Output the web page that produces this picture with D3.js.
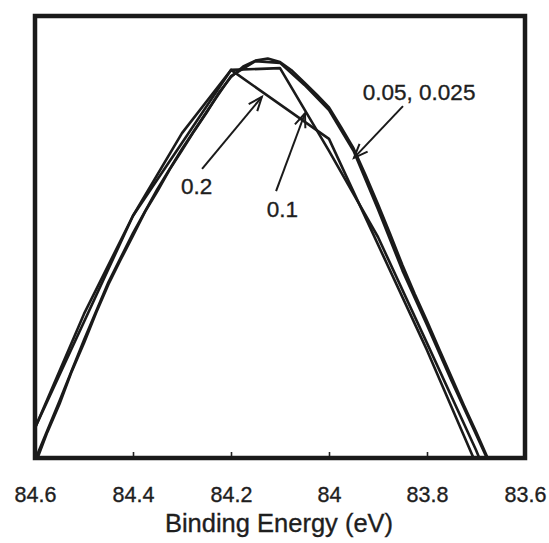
<!DOCTYPE html>
<html>
<head>
<meta charset="utf-8">
<script src="https://cdn.jsdelivr.net/npm/d3@7/dist/d3.min.js"></script>
<style>
  html, body { margin: 0; padding: 0; background: #fff; }
  svg { display: block; }
  text { font-family: "Liberation Sans", Arial, sans-serif; fill: #1e1e1e; stroke: #1e1e1e; stroke-width: 0.35px; }
</style>
</head>
<body>
<div id="chart"></div>
<script>
// Binding energy (eV) sampled with each scan step, and the measured intensity (a.u.)
const energy020 = [84.6, 84.4, 84.2, 84.0, 83.8, 83.6];
const intensity020 = [6.8, 54.8, 87.8, 72.2, 24.4, -27];

const energy010 = [84.6, 84.5, 84.4, 84.3, 84.2, 84.1, 84.0, 83.9, 83.8, 83.7, 83.6];
const intensity010 = [6.8, 32.6, 54.8, 73.5, 87.8, 88.2, 69.5, 50.0, 26.0, 1.8, -25];

const energy005 = [84.6, 84.55, 84.5, 84.45, 84.4, 84.35, 84.3, 84.25, 84.2, 84.15, 84.1,
                   84.05, 84.0, 83.95, 83.9, 83.85, 83.8, 83.75, 83.7, 83.65, 83.6];
const intensity005 = [-0.5, 12.9, 26.7, 39.8, 50.9, 60.9, 69.9, 78.3, 86.4, 89.8, 89.4,
                      84.4, 78.7, 69.5, 56.3, 42.4, 30.1, 17.5, 5.4, -6.8, -20];

const energy0025 = [84.6, 84.575, 84.55, 84.525, 84.5, 84.475, 84.45, 84.425, 84.4, 84.375,
                    84.35, 84.325, 84.3, 84.275, 84.25, 84.225, 84.2, 84.175, 84.15, 84.125,
                    84.1, 84.075, 84.05, 84.025, 84.0, 83.975, 83.95, 83.925, 83.9, 83.875,
                    83.85, 83.825, 83.8, 83.775, 83.75, 83.725, 83.7, 83.675, 83.65, 83.625, 83.6];
const intensity0025 = [-1.5, 5.8, 12.2, 19.6, 26.0, 32.9, 39.3, 44.9, 50.3, 55.8,
                       60.4, 65.3, 69.6, 74.0, 78.1, 82.6, 86.2, 88.6, 89.9, 90.4,
                       89.6, 87.6, 84.9, 82.2, 79.3, 74.8, 70.1, 63.9, 57.4, 50.6,
                       43.6, 37.1, 31.0, 24.6, 18.3, 12.0, 6.0, -0.3, -6.5, -13, -19.5];

const xTicks = [84.6, 84.4, 84.2, 84.0, 83.8, 83.6];
const xTitle = "Binding Energy (eV)";

// Step-size annotations: label anchor and arrow tail/tip in data units
const annotLabels = ["0.05, 0.025", "0.2", "0.1"];
const annotText = [[83.931, 81.0], [84.302, 59.7], [84.127, 54.5]];
const annotTail = [[83.849, 79.6], [84.259, 65.4], [84.108, 60.4]];
const annotTip  = [[83.949, 67.9], [84.137, 81.7], [84.049, 78.0]];

const W = 549, H = 543;
const plot = { left: 35, right: 525, top: 16, bottom: 458 };

const svg = d3.select("#chart").append("svg")
  .attr("width", W).attr("height", H);

const x = d3.scaleLinear().domain([84.6, 83.6]).range([plot.left, plot.right]);
const y = d3.scaleLinear().domain([0, 100]).range([plot.bottom, plot.top]);

svg.append("defs").append("clipPath").attr("id", "plotClip")
  .append("rect")
  .attr("x", plot.left).attr("y", plot.top)
  .attr("width", plot.right - plot.left).attr("height", plot.bottom - plot.top);

const series = [
  { e: energy020, v: intensity020 },
  { e: energy010, v: intensity010 },
  { e: energy005, v: intensity005 },
  { e: energy0025, v: intensity0025 }
];

const line = d3.line().x(d => x(d[0])).y(d => y(d[1]));

const curves = svg.append("g").attr("clip-path", "url(#plotClip)");
series.forEach(s => {
  curves.append("path")
    .datum(s.e.map((e, i) => [e, s.v[i]]))
    .attr("d", line)
    .attr("fill", "none")
    .attr("stroke", "#1a1a1a")
    .attr("stroke-width", 2.6)
    .attr("stroke-linejoin", "round");
});

// Bottom axis: short inward ticks, labels below the frame
const axis = d3.axisBottom(x)
  .tickValues(xTicks)
  .tickFormat(d3.format("~g"))
  .tickSizeInner(-6)
  .tickSizeOuter(0)
  .tickPadding(29);

const gx = svg.append("g")
  .attr("transform", `translate(0,${plot.bottom})`)
  .call(axis);
gx.select(".domain").remove();
gx.selectAll(".tick line").attr("stroke", "#222").attr("stroke-width", 1.6);
gx.selectAll(".tick text")
  .attr("font-size", 21.5)
  .attr("font-family", "'Liberation Sans', Arial, sans-serif")
  .attr("fill", "#1e1e1e");

svg.append("text")
  .attr("x", 279)
  .attr("y", 532)
  .attr("text-anchor", "middle")
  .attr("font-size", 25.5)
  .text(xTitle);

// Frame
svg.append("rect")
  .attr("x", plot.left).attr("y", plot.top)
  .attr("width", plot.right - plot.left).attr("height", plot.bottom - plot.top)
  .attr("fill", "none")
  .attr("stroke", "#1a1a1a")
  .attr("stroke-width", 4.5);

// Annotations with open arrowheads
const ann = svg.append("g");
annotLabels.forEach((label, i) => {
  const [tx, ty] = [x(annotText[i][0]), y(annotText[i][1])];
  ann.append("text")
    .attr("x", tx).attr("y", ty)
    .attr("font-size", 22.5)
    .text(label);

  const x1 = x(annotTail[i][0]), y1 = y(annotTail[i][1]);
  const x2 = x(annotTip[i][0]), y2 = y(annotTip[i][1]);
  ann.append("line")
    .attr("x1", x1).attr("y1", y1).attr("x2", x2).attr("y2", y2)
    .attr("stroke", "#1a1a1a").attr("stroke-width", 2);

  const ang = Math.atan2(y1 - y2, x1 - x2);
  const len = 15, spread = 0.38;
  const p1 = [x2 + len * Math.cos(ang - spread), y2 + len * Math.sin(ang - spread)];
  const p2 = [x2 + len * Math.cos(ang + spread), y2 + len * Math.sin(ang + spread)];
  ann.append("path")
    .attr("d", `M${p1[0]},${p1[1]}L${x2},${y2}L${p2[0]},${p2[1]}`)
    .attr("fill", "none")
    .attr("stroke", "#1a1a1a").attr("stroke-width", 2);
});
</script>
</body>
</html>
